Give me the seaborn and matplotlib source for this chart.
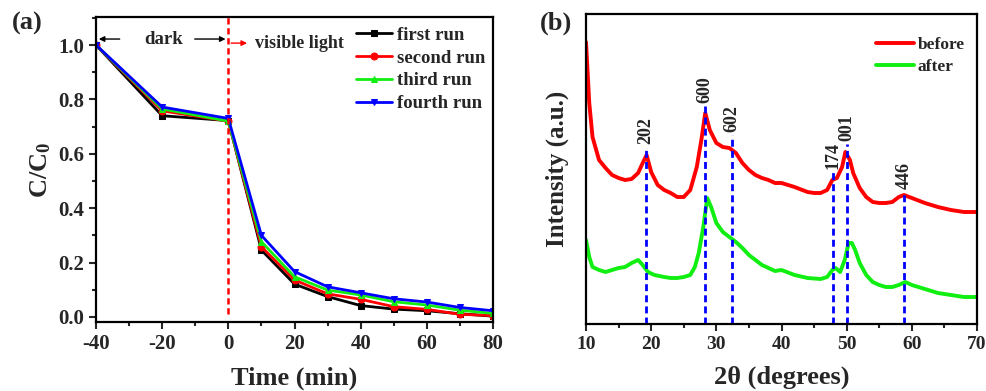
import matplotlib
matplotlib.use("Agg")
import matplotlib.pyplot as plt
import seaborn as sns
import pandas as pd
from matplotlib.ticker import MultipleLocator, NullLocator

# ---------------- data: panel (a) ----------------
time_min = [-40, -20, 0, 10, 20, 30, 40, 50, 60, 70, 80]
first_run = [1.0, 0.740, 0.722, 0.246, 0.121, 0.075, 0.042, 0.029, 0.023, 0.012, 0.003]
second_run = [1.0, 0.758, 0.720, 0.258, 0.136, 0.085, 0.065, 0.038, 0.028, 0.010, 0.005]
third_run = [1.0, 0.765, 0.720, 0.277, 0.148, 0.099, 0.081, 0.056, 0.044, 0.025, 0.013]
fourth_run = [1.0, 0.772, 0.730, 0.300, 0.167, 0.111, 0.089, 0.067, 0.055, 0.035, 0.023]
run_labels = ["first run", "second run", "third run", "fourth run"]

# ---------------- data: panel (b) ----------------
tt_before = [10, 10.5, 11, 12, 13, 14, 15, 16, 17, 18, 18.7, 19.3, 20, 21, 22, 23, 24, 25, 26, 27,
             27.7, 28.3, 29, 30, 31, 32, 33, 34, 35, 36, 37, 38, 39, 40, 42, 44, 45, 46, 47,
             47.8, 48.5, 49.3, 49.8, 50.5, 51, 52, 53, 54, 55, 56, 57, 58, 58.8, 60, 62, 64,
             66, 68, 70]
int_before = [282, 221, 187, 164, 156, 149, 146, 144, 145, 151, 161, 169, 152, 139, 134, 131, 127,
              127, 134, 157, 184, 211, 194, 181, 177, 176, 171, 161, 154, 149, 146, 144, 141,
              141, 137, 132, 131, 131, 134, 144, 146, 157, 172, 164, 151, 136, 127, 122, 121,
              121, 122, 127, 129, 126, 121, 117, 114, 112, 112]
tt_after = [10, 10.5, 11, 12, 13, 14, 15, 16, 17, 18, 18.7, 19.5, 20.5, 22, 23, 24, 25, 26, 26.7,
            27.3, 28, 28.6, 29.2, 30, 31, 32, 33, 34, 35, 36, 37, 38, 39, 40, 42, 44, 46, 47,
            47.8, 48.3, 49, 49.7, 50.3, 50.8, 51.3, 52, 53, 54, 55, 56, 57, 58, 59, 60, 62, 64,
            66, 68, 70]
int_after = [84, 67, 57, 54, 52, 54, 56, 57, 61, 64, 59, 52, 49, 47, 46, 46, 47, 49, 57, 71, 97,
             126, 117, 101, 92, 87, 82, 76, 69, 64, 59, 56, 53, 54, 49, 46, 45, 47, 54, 56, 52,
             64, 81, 81, 74, 61, 49, 42, 39, 37, 37, 39, 42, 39, 35, 31, 29, 27, 27]
peak_labels = ["202", "600", "602", "174", "001", "446"]
peak_pos = [19.16, 28.3, 32.45, 47.85, 50.0, 58.85]
peak_top = [177, 218, 189, 152, 180, 132]

sns.set_theme(style="ticks")
SERIF = "Liberation Serif"
plt.rcParams["font.family"] = [SERIF, "DejaVu Serif"]
plt.rcParams["font.weight"] = "bold"
plt.rcParams["axes.unicode_minus"] = False
plt.rcParams["mathtext.fontset"] = "custom"
plt.rcParams["mathtext.rm"] = SERIF + ":bold"
plt.rcParams["mathtext.bf"] = SERIF + ":bold"
plt.rcParams["mathtext.it"] = SERIF + ":bold"

fig = plt.figure(figsize=(9.87, 3.91), dpi=100)
axa = fig.add_axes([96 / 987, (391 - 322) / 391, 397 / 987, 305 / 391])
axb = fig.add_axes([586 / 987, (391 - 324) / 391, 391 / 987, 310 / 391])

# ---------------- panel (a) ----------------
runs = [first_run, second_run, third_run, fourth_run]
colors = ["#000000", "#ff0000", "#11ee11", "#0000ff"]
markers = ["s", "o", "^", "v"]
for vals, lab, c, m in zip(runs, run_labels, colors, markers):
    df = pd.DataFrame({"t": time_min, "c": vals})
    sns.lineplot(data=df, x="t", y="c", ax=axa, color=c, marker=m, markersize=5,
                 markeredgecolor=c, linewidth=2, label=lab)

axa.axvline(0, ymin=(0.01 + 0.0184) / 1.1214, ymax=1, color="#ff0000", ls=(0, (2.5, 1.5)), lw=1.8)
axa.set_xlim(-40, 80)
axa.set_ylim(-0.0184, 1.103)
axa.xaxis.set_major_locator(MultipleLocator(20))
axa.xaxis.set_minor_locator(MultipleLocator(10))
axa.yaxis.set_major_locator(MultipleLocator(0.2))
axa.yaxis.set_minor_locator(MultipleLocator(0.1))
axa.tick_params(which="major", direction="out", length=5, width=1.5, labelsize=15)
axa.tick_params(which="minor", direction="out", length=3, width=1.5)
for lab in axa.get_xticklabels() + axa.get_yticklabels():
    lab.set_fontweight("bold")
axa.set_xlabel("Time (min)", fontsize=19, fontweight="bold", labelpad=9)
axa.set_ylabel(r"C/C$_\mathbf{0}$", fontsize=19, fontweight="bold", labelpad=4)
for s in axa.spines.values():
    s.set_linewidth(1.6)
    s.set_color("black")

axa.annotate("", xy=(-40, 1.022), xytext=(-32, 1.022),
             arrowprops=dict(arrowstyle="-|>", color="black", lw=1, mutation_scale=8))
axa.annotate("", xy=(0, 1.022), xytext=(-11, 1.022),
             arrowprops=dict(arrowstyle="-|>", color="black", lw=1, mutation_scale=8))
axa.text(-19.5, 1.022, "dark", fontsize=13.5, fontweight="bold", ha="center", va="center")
axa.annotate("", xy=(6.5, 1.007), xytext=(0, 1.007),
             arrowprops=dict(arrowstyle="-|>", color="#ff0000", lw=1, mutation_scale=8))
axa.text(8.2, 1.007, "visible light", fontsize=13, fontweight="bold", ha="left", va="center")

leg = axa.legend(loc="upper right", bbox_to_anchor=(1.01, 1.005), frameon=False, fontsize=13.5,
                 handlelength=1.9, handletextpad=0.3, labelspacing=0.3, borderaxespad=0.2)
for t in leg.get_texts():
    t.set_fontweight("bold")

fig.text(12 / 987, 1 - 23 / 391, "(a)", fontsize=19, fontweight="bold", ha="left", va="center")

# ---------------- panel (b) ----------------
sns.lineplot(x=tt_before, y=int_before, ax=axb, color="#ff0000", linewidth=2.8, label="before")
sns.lineplot(x=tt_after, y=int_after, ax=axb, color="#11ee11", linewidth=2.8, label="after")
for lab, x, top in zip(peak_labels, peak_pos, peak_top):
    axb.plot([x, x], [0, top], color="#0000ff", ls=(0, (2.5, 1.5)), lw=2)
    axb.text(x, top + 3, lab, rotation=90, fontsize=13, fontweight="bold",
             ha="center", va="bottom")
axb.set_xlim(10, 70)
axb.set_ylim(0, 310)
axb.xaxis.set_major_locator(MultipleLocator(10))
axb.xaxis.set_minor_locator(MultipleLocator(5))
axb.yaxis.set_major_locator(NullLocator())
axb.yaxis.set_minor_locator(NullLocator())
axb.tick_params(which="major", axis="x", direction="out", length=5, width=1.5, labelsize=14)
axb.tick_params(which="minor", axis="x", direction="out", length=3, width=1.5)
for lab in axb.get_xticklabels():
    lab.set_fontweight("bold")
axb.set_xlabel("2θ (degrees)", fontsize=19, fontweight="bold", labelpad=9)
axb.set_ylabel("Intensity (a.u.)", fontsize=18, fontweight="bold", labelpad=12)
for s in axb.spines.values():
    s.set_linewidth(1.6)
    s.set_color("black")
legb = axb.legend(loc="upper right", bbox_to_anchor=(1.0, 0.965), frameon=False, fontsize=12.5,
                  handlelength=2.2, handletextpad=0.2, labelspacing=0.35, borderaxespad=0.3)
for t in legb.get_texts():
    t.set_fontweight("bold")

fig.text(540 / 987, 1 - 23 / 391, "(b)", fontsize=19, fontweight="bold", ha="left", va="center")

fig.savefig("out.png", dpi=100)
